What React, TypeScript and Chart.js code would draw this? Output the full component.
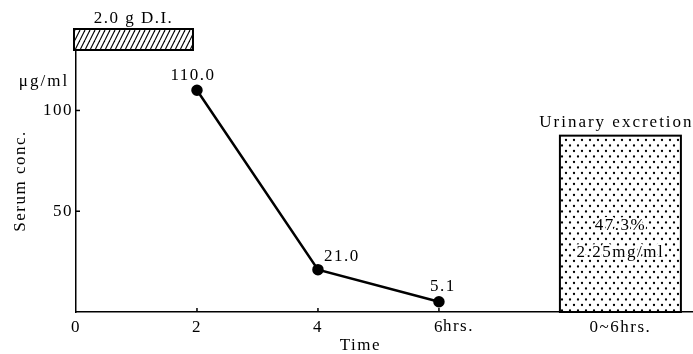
import React, { useEffect, useRef } from "react";
import { Chart, registerables } from "chart.js";

Chart.register(...registerables);

// ---- data ----
const timeHours = [2, 4, 6];
const serumConc = [110.0, 21.0, 5.1];
const serumLabels = ["110.0", "21.0", "5.1"];
const xTickValues = [0, 2, 4, 6, 9];
const xTickLabels = ["0", "2", "4", "6", "0~6hrs."];
const yTickValues = [50, 100];
const doseRange = [0, 2];
const doseLabel = "2.0 g D.I.";
const urinaryRange = [8, 10];
const urinaryHeight = [87.5];
const urinaryTitle = "Urinary excretion";
const urinaryTexts = ["47.3%", "2.25mg/ml"];
const yUnit = "\u03bcg/ml";
const yTitle = "Serum conc.";
const xTitle = "Time";

const FONT = '"Liberation Serif", "DejaVu Serif", serif';

function dotPattern(ctx: CanvasRenderingContext2D) {
  const c = document.createElement("canvas");
  c.width = 8;
  c.height = 11;
  const g = c.getContext("2d")!;
  g.fillStyle = "#fff";
  g.fillRect(0, 0, 8, 11);
  g.fillStyle = "#000";
  for (const [x, y] of [[2, 2.5], [6, 8]]) {
    g.beginPath();
    g.arc(x, y, 1.15, 0, Math.PI * 2);
    g.fill();
  }
  return ctx.createPattern(c, "repeat")!;
}

function hatchPattern(ctx: CanvasRenderingContext2D) {
  const c = document.createElement("canvas");
  c.width = 5;
  c.height = 10;
  const g = c.getContext("2d")!;
  g.fillStyle = "#fff";
  g.fillRect(0, 0, 5, 10);
  g.strokeStyle = "#000";
  g.lineWidth = 1.1;
  for (const o of [-5, 0, 5]) {
    g.beginPath();
    g.moveTo(o, 10);
    g.lineTo(o + 5, 0);
    g.stroke();
  }
  return ctx.createPattern(c, "repeat")!;
}

function text(
  ctx: CanvasRenderingContext2D,
  s: string,
  x: number,
  y: number,
  size: number,
  align: CanvasTextAlign = "center",
  spacing = 1.5,
  halo = false
) {
  ctx.save();
  ctx.font = `${size}px ${FONT}`;
  (ctx as any).letterSpacing = `${spacing}px`;
  ctx.textAlign = align;
  ctx.textBaseline = "middle";
  if (halo) {
    ctx.strokeStyle = "#fff";
    ctx.lineWidth = 4;
    ctx.lineJoin = "round";
    ctx.strokeText(s, x, y);
  }
  ctx.fillStyle = "#000";
  ctx.fillText(s, x, y);
  ctx.restore();
}

const decorPlugin = {
  id: "decor",
  beforeDraw(chart: any) {
    (chart.ctx as any).letterSpacing = "1.5px";
  },
  beforeDatasetsDraw(chart: any) {
    const ctx: CanvasRenderingContext2D = chart.ctx;
    const xs = chart.scales.x;
    const ys = chart.scales.y;
    const area = chart.chartArea;

    // urinary excretion bar
    const ux0 = xs.getPixelForValue(urinaryRange[0]);
    const ux1 = xs.getPixelForValue(urinaryRange[1]);
    const uy0 = ys.getPixelForValue(0);
    const uy1 = ys.getPixelForValue(urinaryHeight[0]);
    ctx.save();
    ctx.fillStyle = dotPattern(ctx);
    ctx.fillRect(ux0, uy1, ux1 - ux0, uy0 - uy1);
    ctx.strokeStyle = "#000";
    ctx.lineWidth = 2;
    ctx.strokeRect(ux0, uy1, ux1 - ux0, uy0 - uy1);
    ctx.restore();
    const ucx = (ux0 + ux1) / 2;
    text(ctx, urinaryTexts[0], ucx, uy1 + 90, 17, "center", 1.5, true);
    text(ctx, urinaryTexts[1], ucx, uy1 + 117, 17, "center", 1.5, true);
    text(ctx, urinaryTitle, ucx - 4, uy1 - 13, 17, "center", 2);

    // dose bar above the plot
    const dx0 = xs.getPixelForValue(doseRange[0]) - 2;
    const dx1 = xs.getPixelForValue(doseRange[1]) - 4;
    const dTop = area.top - 21;
    ctx.save();
    ctx.fillStyle = hatchPattern(ctx);
    ctx.fillRect(dx0, dTop, dx1 - dx0, area.top - dTop);
    ctx.strokeStyle = "#000";
    ctx.lineWidth = 2;
    ctx.strokeRect(dx0, dTop, dx1 - dx0, area.top - dTop);
    ctx.restore();
    text(ctx, doseLabel, (dx0 + dx1) / 2, dTop - 10, 17);

    // unit label
    text(ctx, yUnit, 44, area.top + 32, 17, "center", 2);

    // inward tick marks
    ctx.save();
    ctx.strokeStyle = "#000";
    ctx.lineWidth = 1.5;
    for (const v of yTickValues) {
      const py = ys.getPixelForValue(v);
      ctx.beginPath();
      ctx.moveTo(area.left, py);
      ctx.lineTo(area.left + 4, py);
      ctx.stroke();
    }
    for (const v of xTickValues.slice(1, 4)) {
      const px = xs.getPixelForValue(v);
      ctx.beginPath();
      ctx.moveTo(px, area.bottom);
      ctx.lineTo(px, area.bottom - 4);
      ctx.stroke();
    }
    ctx.restore();

    // "hrs." suffix after the 6 tick and x title
    text(ctx, "hrs.", xs.getPixelForValue(6) + 4, area.bottom + 15, 17, "left");
    text(ctx, xTitle, xs.getPixelForValue(4.7), area.bottom + 34, 17);
  },
  afterDatasetsDraw(chart: any) {
    const ctx: CanvasRenderingContext2D = chart.ctx;
    const meta = chart.getDatasetMeta(0);
    const offsets = [[-4, -15, "center"], [6, -13, "left"], [4, -15, "center"]] as const;
    meta.data.forEach((pt: any, i: number) => {
      const [ox, oy, al] = offsets[i];
      text(ctx, serumLabels[i], pt.x + ox, pt.y + oy, 17, al as CanvasTextAlign, 1.5);
    });
  },
};

export default function App() {
  const ref = useRef<HTMLCanvasElement>(null);
  useEffect(() => {
    document.body.style.margin = "0";
    const chart = new Chart(ref.current!, {
      type: "line",
      data: {
        datasets: [
          {
            data: timeHours.map((t, i) => ({ x: t, y: serumConc[i] })),
            borderColor: "#000",
            borderWidth: 2.5,
            pointRadius: 4.5,
            pointBackgroundColor: "#000",
            pointBorderColor: "#000",
            tension: 0,
          },
        ],
      },
      options: {
        animation: false,
        responsive: true,
        maintainAspectRatio: false,
        layout: { autoPadding: false, padding: { top: 50, left: 0, right: 0, bottom: 0 } },
        plugins: { legend: { display: false }, tooltip: { enabled: false } },
        scales: {
          x: {
            type: "linear",
            min: 0,
            max: 10.2,
            afterFit: (s: any) => {
              s.height = 42;
              s.paddingLeft = 0;
              s.paddingRight = 0;
            },
            afterBuildTicks: (s: any) => {
              s.ticks = xTickValues.map((v) => ({ value: v }));
            },
            grid: { drawOnChartArea: false, drawTicks: false },
            border: { display: true, color: "#000", width: 1.5 },
            ticks: {
              autoSkip: false,
              maxRotation: 0,
              padding: 5,
              color: "#000",
              font: { family: FONT, size: 17 },
              callback: (v: any) => {
                const i = xTickValues.indexOf(Number(v));
                return i >= 0 ? xTickLabels[i] : "";
              },
            },
          },
          y: {
            type: "linear",
            min: 0,
            max: 130,
            afterFit: (s: any) => {
              s.width = 76;
              s.paddingTop = 0;
              s.paddingBottom = 0;
            },
            afterBuildTicks: (s: any) => {
              s.ticks = yTickValues.map((v) => ({ value: v }));
            },
            grid: { drawOnChartArea: false, drawTicks: false },
            border: { display: true, color: "#000", width: 1.5 },
            title: {
              display: true,
              text: yTitle,
              color: "#000",
              font: { family: FONT, size: 17 },
              padding: { top: 10, bottom: 0 },
            },
            ticks: {
              padding: 3,
              color: "#000",
              font: { family: FONT, size: 17 },
              callback: (v: any) => String(v),
            },
          },
        },
      },
      plugins: [decorPlugin],
    });
    return () => chart.destroy();
  }, []);
  return (
    <div style={{ position: "absolute", left: 0, top: 0, width: 693, height: 354, background: "#fff" }}>
      <canvas ref={ref} />
    </div>
  );
}
